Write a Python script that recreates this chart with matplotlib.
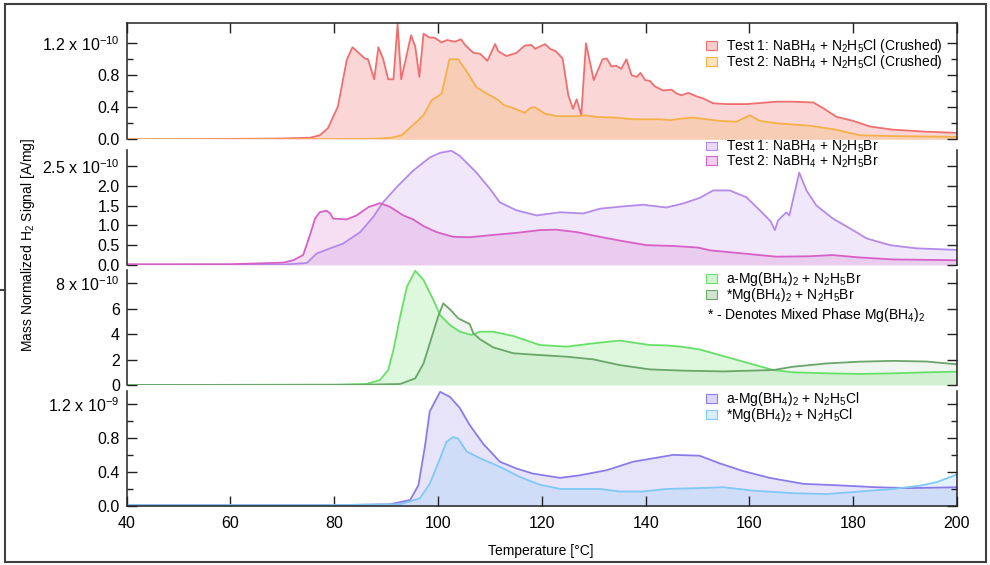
import matplotlib.pyplot as plt
from matplotlib.colors import to_rgba
from matplotlib.lines import Line2D
from matplotlib.patches import Patch, Rectangle

plt.rcParams["font.family"] = "Liberation Sans"
plt.rcParams["mathtext.default"] = "regular"

# all signals in units of the panel's exponent (1e-10 or 1e-9 A/mg)

# panel 1: NaBH4 + N2H5Cl (crushed)
nacl_t1_temp = [40, 60, 70, 75.4, 77.2, 78.8, 80.7, 82.4, 83.5, 85.9, 86.5, 87.7, 88.5, 89.4,
                90.4, 91.4, 92.2, 92.9, 94.8, 95.6, 96.4, 97.2, 98.4, 99.3, 100.7, 101.7, 103.3,
                104.4, 105.2, 106.8, 108.1, 109.5, 111.0, 111.6, 113.2, 115.1, 116.7, 118.0, 118.7,
                120.6, 121.6, 122.7, 124.0, 125.1, 126.0, 126.7, 127.6, 128.5, 130.0, 131.7, 132.5,
                133.4, 134.3, 135.3, 136.3, 137.3, 138.3, 139.0, 139.9, 140.8, 141.8, 143.4, 145.0,
                146.0, 146.9, 148.2, 150.1, 151.1, 153.0, 155.6, 159.5, 165.2, 168.4, 172.3, 174.2,
                176.8, 180.0, 183.2, 187.7, 194.1, 200]
nacl_t1_sig = [0.0, 0.005, 0.01, 0.02, 0.05, 0.14, 0.41, 0.99, 1.15, 1.01, 1.0, 0.75, 1.15, 1.01,
               0.75, 0.75, 1.44, 0.75, 1.30, 1.16, 0.78, 1.32, 1.27, 1.27, 1.21, 1.24, 1.22,
               1.25, 1.18, 1.08, 1.07, 0.98, 1.19, 1.10, 1.04, 1.08, 1.17, 1.18, 1.13,
               1.19, 1.13, 1.10, 1.01, 0.55, 0.38, 0.50, 0.30, 1.20, 0.74, 1.00, 1.01,
               0.91, 0.92, 0.88, 1.00, 0.80, 0.78, 0.83, 0.74, 0.73, 0.66, 0.61, 0.62,
               0.57, 0.55, 0.58, 0.53, 0.51, 0.45, 0.44, 0.44, 0.47, 0.47, 0.46, 0.39,
               0.28, 0.23, 0.16, 0.12, 0.095, 0.08]
nacl_t2_temp = [40, 70, 85, 89, 91, 93, 95.2, 97.2, 98.8, 100.7, 102.2, 103.9, 105.5, 107.4, 109.4,
                111.6, 112.6, 114.5, 116.7, 117.7, 118.7, 120.6, 122.8, 127.3, 128.3, 130.5, 134.4,
                137.6, 142.7, 144.7, 147.2, 149.2, 154.3, 157.5, 160.1, 162.0, 165.2, 171.6, 176.7,
                181.3, 187.7, 200]
nacl_t2_sig = [0.0, 0.0, 0.005, 0.01, 0.02, 0.05, 0.18, 0.30, 0.49, 0.57, 1.0, 1.0, 0.85, 0.65, 0.57,
               0.49, 0.43, 0.39, 0.33, 0.39, 0.40, 0.32, 0.29, 0.29, 0.30, 0.28, 0.27,
               0.25, 0.25, 0.24, 0.26, 0.27, 0.23, 0.22, 0.30, 0.23, 0.20, 0.17, 0.12,
               0.05, 0.04, 0.03]

# panel 2: NaBH4 + N2H5Br
nabr_t1_temp = [40, 70, 74.7, 76.6, 79.2, 81.7, 85.0, 87.5, 89.4, 92.0, 95.2, 98.4, 100.4, 102.6,
                104.2, 107.4, 110.0, 111.9, 115.1, 119.0, 123.5, 128.0, 131.2, 135.0, 139.5, 144.0,
                147.2, 150.4, 153.0, 156.2, 159.4, 162.0, 164.1, 164.9, 165.5, 166.5, 167.1, 167.7,
                169.6, 171.0, 172.9, 176.1, 179.4, 182.6, 187.1, 192.2, 200]
nabr_t1_sig = [0.0, 0.01, 0.05, 0.29, 0.42, 0.54, 0.83, 1.21, 1.58, 1.96, 2.38, 2.71, 2.83, 2.88,
               2.75, 2.33, 1.92, 1.58, 1.38, 1.25, 1.33, 1.30, 1.42, 1.47, 1.52, 1.45,
               1.55, 1.69, 1.88, 1.88, 1.71, 1.38, 1.10, 0.88, 1.12, 1.25, 1.33, 1.25,
               2.33, 1.88, 1.50, 1.17, 0.92, 0.67, 0.50, 0.42, 0.38]
nabr_t2_temp = [40, 60, 70.2, 72.1, 74.0, 75.3, 76.3, 77.2, 78.5, 79.2, 79.8, 82.4, 84.3, 86.6, 88.8,
                90.7, 93.3, 95.2, 97.2, 99.7, 102.9, 106.1, 110.0, 115.1, 119.6, 122.8, 126.7,
                131.2, 135.7, 140.2, 145.3, 150.1, 152.4, 158.8, 165.2, 171.6, 176.0, 181.3, 187.7,
                200]
nabr_t2_sig = [0.02, 0.02, 0.06, 0.12, 0.25, 0.75, 1.17, 1.33, 1.37, 1.30, 1.17, 1.15, 1.25, 1.46, 1.56,
               1.47, 1.25, 1.15, 0.98, 0.83, 0.71, 0.70, 0.75, 0.81, 0.88, 0.89, 0.83,
               0.71, 0.60, 0.50, 0.48, 0.44, 0.37, 0.29, 0.21, 0.22, 0.25, 0.19, 0.14,
               0.12]

# panel 3: Mg(BH4)2 + N2H5Br
mgbr_a_temp = [40, 80, 86.2, 88.8, 90.4, 91.4, 92.7, 94.0, 95.6, 97.2, 99.1, 100.4, 102.3, 104.2,
               106.5, 108.1, 110.6, 114.5, 119.6, 124.8, 129.9, 135.0, 140.8, 144.0, 147.2, 150.4,
               152.4, 158.8, 164.6, 168.4, 174.9, 181.3, 187.7, 194.1, 200]
mgbr_a_sig = [0.0, 0.02, 0.08, 0.39, 1.18, 2.76, 5.4, 7.74, 9.0, 8.27, 6.7, 5.5, 4.72, 4.2,
              3.94, 4.2, 4.2, 3.86, 3.15, 3.02, 3.28, 3.5, 3.15, 3.12, 3.0, 2.8,
              2.57, 1.84, 1.18, 1.0, 0.92, 0.87, 0.92, 1.0, 1.05]
mgbr_mix_temp = [40, 85, 92.7, 95.6, 97.2, 98.8, 100.0, 101.0, 102.3, 103.9, 106.1, 106.8, 108.1,
                 110.6, 114.5, 119.6, 124.8, 129.9, 135.0, 140.8, 147.2, 155.0, 164.6, 168.4,
                 174.9, 181.3, 187.7, 194.1, 200]
mgbr_mix_sig = [0.0, 0.02, 0.08, 0.52, 1.7, 3.8, 5.38, 6.43, 5.96, 5.25, 4.8, 4.07, 3.6,
                2.97, 2.5, 2.36, 2.23, 2.02, 1.57, 1.23, 1.13, 1.07, 1.18, 1.44,
                1.7, 1.84, 1.9, 1.85, 1.63]

# panel 4: Mg(BH4)2 + N2H5Cl
mgcl_a_temp = [40, 80, 90.7, 94.6, 96.2, 97.5, 98.4, 100.4, 102.3, 104.2, 106.1, 108.7, 111.9, 115.1,
               118.3, 123.5, 127.3, 132.5, 137.6, 141.5, 145.3, 150.4, 154.3, 158.8, 163.9, 170.4,
               178.0, 184.5, 190.9, 200]
mgcl_a_sig = [0.01, 0.01, 0.02, 0.07, 0.24, 0.71, 1.11, 1.34, 1.28, 1.15, 0.95, 0.73, 0.52, 0.44,
              0.38, 0.33, 0.36, 0.42, 0.52, 0.56, 0.60, 0.59, 0.50, 0.41, 0.33, 0.26,
              0.24, 0.22, 0.21, 0.22]
mgcl_mix_temp = [40, 80, 92.7, 96.5, 98.4, 100.4, 101.6, 102.9, 103.9, 105.5, 108.1, 111.9, 115.8,
                 119.6, 123.5, 131.2, 135.0, 139.5, 144.0, 150.4, 155.0, 160.7, 168.4, 174.9,
                 181.3, 187.7, 193.0, 196.1, 200]
mgcl_mix_sig = [0.01, 0.01, 0.02, 0.09, 0.26, 0.56, 0.75, 0.81, 0.79, 0.64, 0.56, 0.46, 0.34,
                0.25, 0.20, 0.20, 0.17, 0.17, 0.20, 0.21, 0.22, 0.18, 0.15, 0.14,
                0.17, 0.20, 0.24, 0.28, 0.37]

temp_ticks = [40, 60, 80, 100, 120, 140, 160, 180, 200]

W, H = 990, 565
fig = plt.figure(figsize=(W / 100, H / 100), dpi=100)


def px_axes(x0, y0, x1, y1):
    return fig.add_axes([x0 / W, 1 - y1 / H, (x1 - x0) / W, (y1 - y0) / H])


def style(ax, ymax, ticks, labels, minor, top=False, bottom=False):
    ax.set_xlim(40, 200)
    ax.set_ylim(0, ymax)
    ax.set_xticks(temp_ticks)
    ax.set_yticks(ticks, labels)
    ax.set_yticks(minor, minor=True)
    ax.spines["top"].set_visible(top)
    ax.spines["bottom"].set_visible(bottom)
    for s in ax.spines.values():
        s.set_linewidth(1.1)
        s.set_color("#222222")
    ax.tick_params(which="both", direction="in", left=True, right=True, top=top, bottom=bottom,
                   labelbottom=bottom, width=1, colors="#222222", labelcolor="black")
    ax.tick_params(which="major", length=7, labelsize=11.5, pad=5)
    ax.tick_params(which="minor", length=4)
    ax.tick_params(axis="x", which="major", pad=7)


def draw(ax, temp, sig, color, alpha):
    ax.fill_between(temp, sig, color=color, alpha=alpha, linewidth=0)
    ax.plot(temp, sig, color=color, linewidth=1.3)


def legend(ax, colors, labels, anchor, alpha):
    handles = [Patch(facecolor=to_rgba(c, alpha + 0.1), edgecolor=c, linewidth=0.8) for c in colors]
    leg = ax.legend(handles, labels, loc="upper left", bbox_to_anchor=anchor, frameon=False,
                    fontsize=10, handlelength=0.75, handleheight=0.6, handletextpad=0.7,
                    labelspacing=-0.12, borderpad=0, borderaxespad=0)
    leg.set_zorder(10)


ax1 = px_axes(126.7, 22.7, 957, 139.3)
draw(ax1, nacl_t1_temp, nacl_t1_sig, "#ef6f6f", 0.28)
draw(ax1, nacl_t2_temp, nacl_t2_sig, "#f5b047", 0.22)
style(ax1, 1.457, [0, 0.4, 0.8, 1.2], ["0.0", "0.4", "0.8", "1.2 x 10$^{-10}$"],
      [0.2, 0.6, 1.0], top=True)
legend(ax1, ["#ef6f6f", "#f5b047"],
       ["Test 1: NaBH$_4$ + N$_2$H$_5$Cl (Crushed)", "Test 2: NaBH$_4$ + N$_2$H$_5$Cl (Crushed)"],
       (0.698, 0.877), 0.25)

ax2 = px_axes(126.7, 150, 957, 265)
draw(ax2, nabr_t1_temp, nabr_t1_sig, "#b48ae8", 0.2)
draw(ax2, nabr_t2_temp, nabr_t2_sig, "#d660c6", 0.2)
style(ax2, 2.9, [0, 0.5, 1.0, 1.5, 2.0, 2.5],
      ["0.0", "0.5", "1.0", "1.5", "2.0", "2.5 x 10$^{-10}$"], [])
legend(ax2, ["#b48ae8", "#d660c6"],
       ["Test 1: NaBH$_4$ + N$_2$H$_5$Br", "Test 2: NaBH$_4$ + N$_2$H$_5$Br"],
       (0.698, 1.096), 0.2)

ax3 = px_axes(126.7, 270, 957, 385)
draw(ax3, mgbr_a_temp, mgbr_a_sig, "#66e066", 0.22)
draw(ax3, mgbr_mix_temp, mgbr_mix_sig, "#6aa56a", 0.1)
style(ax3, 9.06, [0, 2, 4, 6, 8], ["0", "2", "4", "6", "8 x 10$^{-10}$"], [])
legend(ax3, ["#66e066", "#6aa56a"],
       ["a-Mg(BH$_4$)$_2$ + N$_2$H$_5$Br", "*Mg(BH$_4$)$_2$ + N$_2$H$_5$Br"],
       (0.698, 1.0), 0.2)
ax3.text(0.699, 0.612, "* - Denotes Mixed Phase Mg(BH$_4$)$_2$", transform=ax3.transAxes,
         fontsize=10, va="center", ha="left", zorder=10)

ax4 = px_axes(126.7, 390.7, 957, 506)
draw(ax4, mgcl_a_temp, mgcl_a_sig, "#8a7ce8", 0.2)
draw(ax4, mgcl_mix_temp, mgcl_mix_sig, "#80c8f5", 0.22)
style(ax4, 1.353, [0, 0.4, 0.8, 1.2], ["0.0", "0.4", "0.8", "1.2 x 10$^{-9}$"],
      [0.2, 0.6, 1.0], bottom=True)
legend(ax4, ["#8a7ce8", "#80c8f5"],
       ["a-Mg(BH$_4$)$_2$ + N$_2$H$_5$Cl", "*Mg(BH$_4$)$_2$ + N$_2$H$_5$Cl"],
       (0.698, 1.006), 0.2)

fig.text(541 / W, 1 - 551 / H, "Temperature [°C]", ha="center", va="center", fontsize=10)
fig.text(28 / W, 1 - 245 / H, "Mass Normalized H$_2$ Signal [A/mg]", ha="center", va="center",
         rotation=90, fontsize=10)

# screenshot frame around the figure
fig.patches.append(Rectangle((5 / W, 1 - 562 / H), 981 / W, 558 / H, transform=fig.transFigure,
                             fill=False, edgecolor="#404040", linewidth=1.5))
fig.lines.append(Line2D([0, 5 / W], [1 - 290 / H, 1 - 290 / H], transform=fig.transFigure,
                        color="#404040", linewidth=1.5))

fig.savefig("out.png", dpi=100)
